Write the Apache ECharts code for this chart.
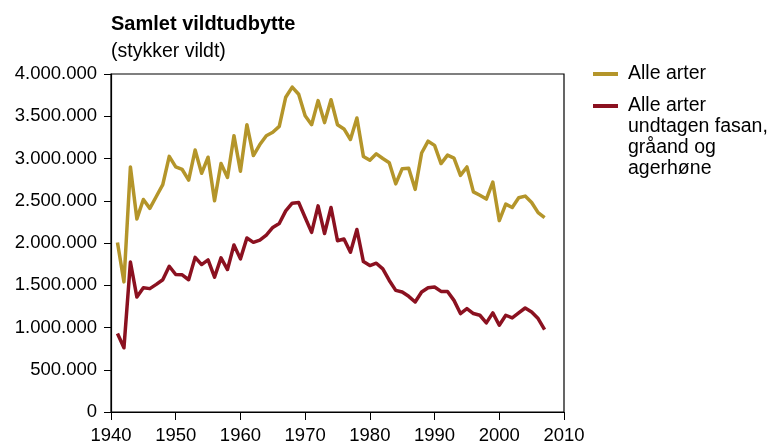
<!DOCTYPE html>
<html>
<head>
<meta charset="utf-8">
<script src="https://cdn.jsdelivr.net/npm/echarts@6/dist/echarts.min.js"></script>
<style>
  html, body { margin: 0; padding: 0; background: #fff; }
  #chart { width: 779px; height: 445px; }
</style>
</head>
<body>
<div id="chart"></div>
<script>
// years 1941-2007
const years = [
  1941, 1942, 1943, 1944, 1945, 1946, 1947, 1948, 1949, 1950,
  1951, 1952, 1953, 1954, 1955, 1956, 1957, 1958, 1959, 1960,
  1961, 1962, 1963, 1964, 1965, 1966, 1967, 1968, 1969, 1970,
  1971, 1972, 1973, 1974, 1975, 1976, 1977, 1978, 1979, 1980,
  1981, 1982, 1983, 1984, 1985, 1986, 1987, 1988, 1989, 1990,
  1991, 1992, 1993, 1994, 1995, 1996, 1997, 1998, 1999, 2000,
  2001, 2002, 2003, 2004, 2005, 2006, 2007
]
// Alle arter
const alleArter = [
  2005000, 1540000, 2900000, 2285000, 2515000, 2410000, 2550000, 2690000, 3025000, 2900000,
  2870000, 2745000, 3100000, 2825000, 3015000, 2500000, 2940000, 2775000, 3270000, 2850000,
  3400000, 3035000, 3165000, 3270000, 3310000, 3380000, 3725000, 3845000, 3760000, 3505000,
  3400000, 3685000, 3425000, 3695000, 3400000, 3350000, 3225000, 3480000, 3025000, 2980000,
  3055000, 3000000, 2950000, 2700000, 2880000, 2885000, 2635000, 3065000, 3205000, 3155000,
  2940000, 3040000, 3005000, 2800000, 2900000, 2605000, 2565000, 2520000, 2720000, 2265000,
  2460000, 2420000, 2535000, 2555000, 2480000, 2360000, 2300000
]
// Alle arter undtagen fasan, gråand og agerhøne
const udenFasan = [
  930000, 760000, 1775000, 1360000, 1470000, 1460000, 1510000, 1565000, 1725000, 1627000,
  1624000, 1565000, 1830000, 1745000, 1800000, 1596000, 1824000, 1686000, 1977000, 1812000,
  2060000, 2008000, 2035000, 2094000, 2184000, 2230000, 2380000, 2471000, 2479000, 2302000,
  2126000, 2439000, 2112000, 2420000, 2027000, 2047000, 1890000, 2160000, 1780000, 1733000,
  1761000, 1694000, 1557000, 1439000, 1420000, 1369000, 1302000, 1420000, 1471000, 1479000,
  1427000, 1427000, 1321000, 1165000, 1224000, 1165000, 1145000, 1055000, 1173000, 1027000,
  1145000, 1114000, 1173000, 1231000, 1184000, 1106000, 976000
]

const gold = '#b4952a'
const red = '#8b1120'
const font = "'Liberation Sans', Arial, Helvetica, sans-serif"

// 4000000 -> 4.000.000
function fmt (v) {
  return String(v).replace(/\B(?=(\d{3})+(?!\d))/g, '.')
}

const myChart = echarts.init(document.getElementById('chart'))
const option = {
  animation: false,
  textStyle: { fontFamily: font, color: '#000' },
  title: [
    {
      text: 'Samlet vildtudbytte',
      left: 111,
      top: 14,
      padding: 0,
      textStyle: { fontFamily: font, fontSize: 20, fontWeight: 'bold', color: '#000' }
    },
    {
      text: '(stykker vildt)',
      left: 111,
      top: 42,
      padding: 0,
      textStyle: { fontFamily: font, fontSize: 19.5, fontWeight: 'normal', color: '#000' }
    }
  ],
  grid: {
    left: 111,
    right: 215,
    top: 74,
    bottom: 31,
    show: true,
    borderColor: '#000',
    borderWidth: 1.2,
    backgroundColor: 'transparent'
  },
  xAxis: {
    type: 'value',
    min: 1940,
    max: 2010,
    interval: 10,
    splitLine: { show: false },
    axisLine: { lineStyle: { color: '#000', width: 1.2 } },
    axisTick: { show: true, inside: false, length: 8, lineStyle: { color: '#000' } },
    axisLabel: {
      color: '#000',
      fontSize: 18.5,
      fontFamily: font,
      margin: 14,
      formatter: (v) => String(v)
    }
  },
  yAxis: {
    type: 'value',
    min: 0,
    max: 4000000,
    interval: 500000,
    splitLine: { show: false },
    axisLine: { show: true, lineStyle: { color: '#000', width: 1.2 } },
    axisTick: { show: true, inside: false, length: 7, lineStyle: { color: '#000' } },
    axisLabel: {
      color: '#000',
      fontSize: 18.5,
      fontFamily: font,
      margin: 14,
      formatter: (v) => fmt(v)
    }
  },
  series: [
    {
      name: 'Alle arter',
      type: 'line',
      data: years.map((y, i) => [y, alleArter[i]]),
      showSymbol: false,
      lineStyle: { color: gold, width: 3.5, join: 'round' },
      itemStyle: { color: gold }
    },
    {
      name: 'Alle arter undtagen fasan, gråand og agerhøne',
      type: 'line',
      data: years.map((y, i) => [y, udenFasan[i]]),
      showSymbol: false,
      lineStyle: { color: red, width: 3.5, join: 'round' },
      itemStyle: { color: red }
    }
  ],
  graphic: [
    { type: 'line', shape: { x1: 593, y1: 74, x2: 618, y2: 74 }, style: { stroke: gold, lineWidth: 4 } },
    {
      type: 'text', left: 628, top: 64,
      style: { text: 'Alle arter', font: '19.5px ' + font, fill: '#000' }
    },
    { type: 'line', shape: { x1: 593, y1: 106, x2: 618, y2: 106 }, style: { stroke: red, lineWidth: 4 } },
    {
      type: 'text', left: 628, top: 95,
      style: {
        text: 'Alle arter\nundtagen fasan,\ngråand og\nagerhøne',
        font: '19.5px ' + font,
        lineHeight: 21,
        fill: '#000'
      }
    }
  ]
}
myChart.setOption(option)
window.addEventListener('resize', () => myChart.resize())
</script>
</body>
</html>
